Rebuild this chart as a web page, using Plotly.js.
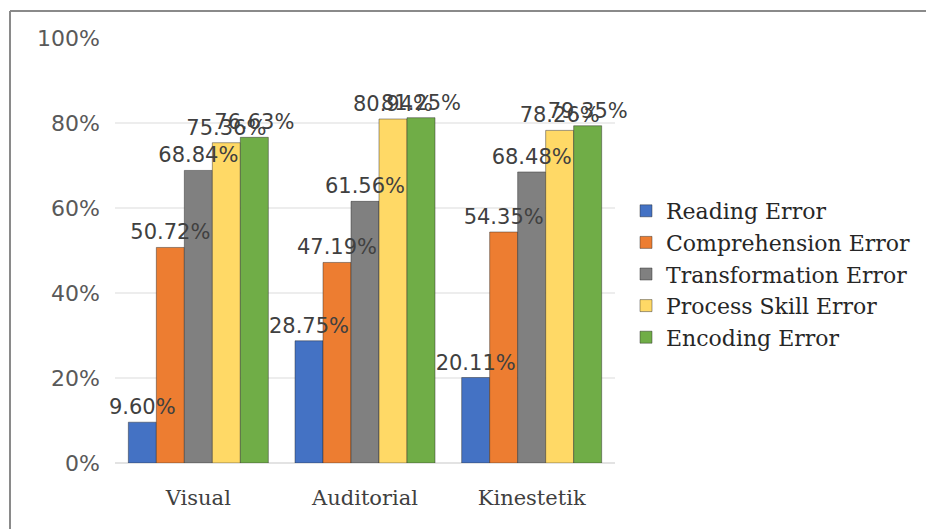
<!DOCTYPE html>
<html>
<head>
<meta charset="utf-8">
<script src="https://cdn.plot.ly/plotly-3.0.1.min.js"></script>
<style>html,body{margin:0;padding:0;background:#fff;}#chart{width:926px;height:529px;}</style>
</head>
<body>
<div id="chart"></div>
<script>
const categories = ["Visual", "Auditorial", "Kinestetik"];
const seriesNames = ["Reading Error", "Comprehension Error", "Transformation Error", "Process Skill Error", "Encoding Error"];
const readingError = [9.60, 28.75, 20.11];
const comprehensionError = [50.72, 47.19, 54.35];
const transformationError = [68.84, 61.56, 68.48];
const processSkillError = [75.36, 80.94, 78.26];
const encodingError = [76.63, 81.25, 79.35];
const yTickValues = [0, 20, 40, 60, 80, 100];
const yTickLabels = ["0%", "20%", "40%", "60%", "80%", "100%"];

const seriesValues = [readingError, comprehensionError, transformationError, processSkillError, encodingError];
const colors = ["#4472C4", "#ED7D31", "#808080", "#FFD966", "#70AD47"];

// coloured bars
const barTraces = seriesValues.map((vals, i) => ({
  type: "bar",
  name: seriesNames[i],
  x: categories,
  y: vals,
  offsetgroup: "g" + i,
  marker: {color: colors[i], line: {color: "rgba(40,40,40,0.45)", width: 1}},
  hoverinfo: "skip"
}));

// transparent twins carrying the value labels, drawn last so labels sit on top
const labelTraces = seriesValues.map((vals, i) => ({
  type: "bar",
  name: seriesNames[i] + " label",
  showlegend: false,
  x: categories,
  y: vals,
  offsetgroup: "g" + i,
  text: vals.map(v => v.toFixed(2) + "%"),
  textposition: "outside",
  constraintext: "none",
  cliponaxis: false,
  textfont: {family: "DejaVu Sans", size: 21, color: "#404040"},
  marker: {color: "rgba(0,0,0,0)", line: {width: 0}},
  hoverinfo: "skip"
}));

const L = 115, R = 615, T = 38, B = 463;
const px = x => (x - L) / (R - L);
const py = y => (B - y) / (B - T);

const layout = {
  width: 926, height: 529,
  margin: {l: L, r: 926 - R, t: T, b: 529 - B, autoexpand: false},
  paper_bgcolor: "#fff", plot_bgcolor: "#fff",
  barmode: "group", bargap: 0.16, bargroupgap: 0,
  showlegend: true,
  legend: {
    x: px(626), xanchor: "left", y: py(274), yanchor: "middle",
    font: {family: "DejaVu Serif", size: 22, color: "#262626"},
    itemwidth: 30, tracegroupgap: 0, bgcolor: "rgba(0,0,0,0)"
  },
  xaxis: {
    tickfont: {family: "DejaVu Serif", size: 21, color: "#404040"},
    showgrid: false, zeroline: false, showline: false, ticks: "", fixedrange: true,
    ticklabelstandoff: 20
  },
  yaxis: {
    range: [0, 100], tickvals: yTickValues, ticktext: yTickLabels,
    tickfont: {family: "DejaVu Sans", size: 22, color: "#595959"},
    showgrid: true, gridcolor: "#EDEDED", gridwidth: 1.5,
    zeroline: true, zerolinecolor: "#E3E3E3", zerolinewidth: 1.5,
    showline: false, ticks: "", ticklabelstandoff: 14, fixedrange: true
  },
  shapes: [
    {type: "line", xref: "paper", yref: "paper", x0: px(10), x1: px(926), y0: py(11), y1: py(11), line: {color: "#8a8a8a", width: 2}},
    {type: "line", xref: "paper", yref: "paper", x0: px(10), x1: px(10), y0: py(11), y1: py(529), line: {color: "#8a8a8a", width: 2}}
  ]
};

Plotly.newPlot("chart", barTraces.concat(labelTraces), layout, {displayModeBar: false, staticPlot: true});
</script>
</body>
</html>
